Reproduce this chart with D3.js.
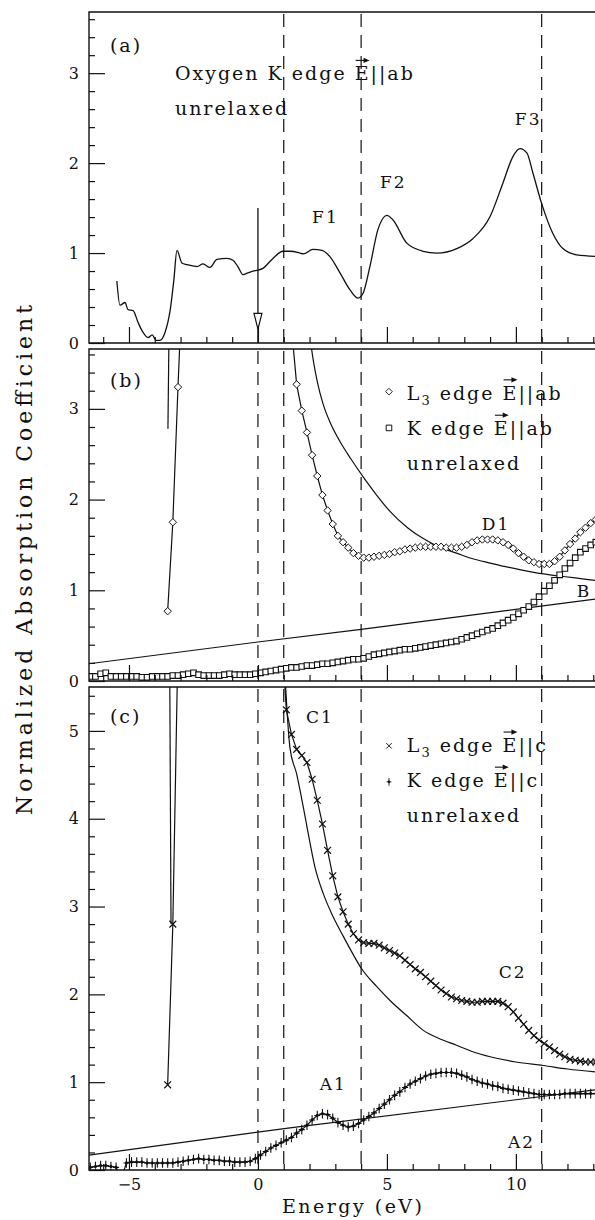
<!DOCTYPE html>
<html>
<head>
<meta charset="utf-8">
<script src="https://cdn.jsdelivr.net/npm/d3@7"></script>
<style>
	body { margin: 0; background: #fff; }
	svg { display: block; }
	text { font-family: "DejaVu Serif", serif; fill: #111; }
</style>
</head>
<body>
<svg id="chart" width="595" height="1220"></svg>
<script>
// Spectra are sampled every 0.2 eV
const step = 0.2;

// x axis (energy, eV)
const xTicksMajor = [-5, 0, 5, 10];
const xTicksMinor = [-6, -4, -3, -2, -1, 1, 2, 3, 4, 6, 7, 8, 9, 11, 12, 13];
const dashesA = [1, 4, 11];
const dashesBC = [0, 1, 4, 11];

// (a) Oxygen K edge, E||ab, unrelaxed
const oxyE = [-5.47, -5.35, -5.15, -5.04, -4.84, -4.65, -4.46, -4.26, -4.10, -3.95, -3.80, -3.60, -3.40, -3.26, -3.14,
	-2.95, -2.75, -2.36, -2.13, -1.86, -1.59, -1.20, -0.97, -0.78, -0.58, -0.39, -0.19, 0.0, 0.19, 0.58, 0.97,
	1.24, 1.63, 1.76, 2.13, 2.48, 2.79, 3.18, 3.57, 3.88, 4.07, 4.34, 4.65, 5.00, 5.23, 5.77, 6.40, 6.94, 7.71,
	8.33, 8.99, 9.50, 9.88, 10.16, 10.43, 10.66, 11.00, 11.43, 11.82, 12.36, 13.30];
const oxyMu = [0.69, 0.42, 0.45, 0.37, 0.36, 0.23, 0.12, 0.06, 0.09, 0.03, 0.03, 0.12, 0.37, 0.70, 1.03,
	0.89, 0.87, 0.85, 0.88, 0.84, 0.93, 0.94, 0.92, 0.85, 0.76, 0.78, 0.80, 0.81, 0.83, 0.94, 1.02,
	1.02, 1.00, 0.99, 1.04, 1.03, 0.96, 0.78, 0.59, 0.50, 0.55, 0.85, 1.26, 1.42, 1.37, 1.11, 1.02, 1.00, 1.05,
	1.16, 1.40, 1.78, 2.07, 2.16, 2.11, 1.89, 1.55, 1.22, 1.05, 0.98, 0.96];
const arrowE = 0;
const arrowFrom = 1.5, arrowBase = 0.33, arrowTip = 0.155;

// (b) L3 edge E||ab (diamonds)
const l3abLeftStart = -3.5;
const l3abLeft = [0.77, 1.75, 3.24, 4.6];
const l3abStart = 1.3;
const l3ab = [3.9, 3.27, 2.98, 2.74, 2.49, 2.26, 2.05, 1.88, 1.73, 1.60, 1.53, 1.47, 1.41, 1.38, 1.36, 1.36, 1.37,
	1.38, 1.39, 1.40, 1.42, 1.43, 1.45, 1.46, 1.47, 1.48, 1.48, 1.48, 1.48, 1.48, 1.47, 1.47, 1.47, 1.48, 1.50,
	1.53, 1.55, 1.56, 1.56, 1.56, 1.55, 1.53, 1.50, 1.46, 1.41, 1.37, 1.33, 1.31, 1.29, 1.29, 1.29, 1.32, 1.37,
	1.44, 1.51, 1.57, 1.64, 1.69, 1.74, 1.78];
// (b) K edge E||ab (squares)
const kabStart = -6.5;
const kab = [0.05, 0.05, 0.08, 0.09, 0.05, 0.05, 0.05, 0.05, 0.05, 0.05, 0.04, 0.04, 0.05, 0.05, 0.05, 0.05,
	0.06, 0.06, 0.07, 0.08, 0.09, 0.07, 0.06, 0.06, 0.06, 0.06, 0.07, 0.08, 0.07, 0.07, 0.07, 0.07, 0.08, 0.09,
	0.10, 0.11, 0.12, 0.13, 0.14, 0.15, 0.15, 0.16, 0.17, 0.17, 0.18, 0.19, 0.19, 0.20, 0.21, 0.22, 0.23, 0.24,
	0.24, 0.25, 0.27, 0.29, 0.30, 0.31, 0.32, 0.33, 0.34, 0.35, 0.35, 0.36, 0.37, 0.38, 0.39, 0.40, 0.41, 0.42,
	0.43, 0.44, 0.46, 0.48, 0.50, 0.52, 0.54, 0.56, 0.58, 0.61, 0.64, 0.67, 0.70, 0.74, 0.78, 0.82, 0.87, 0.93,
	0.99, 1.05, 1.11, 1.17, 1.24, 1.30, 1.36, 1.42, 1.46, 1.50, 1.53];
// (b) unrelaxed curves
const unrelL3abE = [2.0, 2.08, 2.3, 2.53, 2.8, 3.18, 3.6, 4.08, 4.6, 5.12, 5.8, 6.41, 7.0, 7.7, 8.3, 9.0, 9.6, 10.28, 11.06, 11.6, 12.22, 13.3];
const unrelL3ab = [3.85, 3.66, 3.3, 3.05, 2.85, 2.64, 2.45, 2.25, 2.05, 1.87, 1.69, 1.57, 1.48, 1.41, 1.35, 1.30, 1.26, 1.22, 1.18, 1.16, 1.14, 1.10];
const unrelL3abLeftE = [-3.49, -3.45];
const unrelL3abLeft = [2.78, 3.8];
const unrelKabE = [-6.55, 0, 4, 13.3];
const unrelKab = [0.19, 0.43, 0.57, 0.91];

// (c) L3 edge E||c (crosses)
const l3cLeftStart = -3.5;
const l3cLeft = [0.97, 2.8, 6.0];
const l3cStart = 0.9;
const l3c = [6.2, 5.24, 4.96, 4.79, 4.72, 4.64, 4.45, 4.21, 3.94, 3.64, 3.35, 3.11, 2.94, 2.80, 2.69, 2.62, 2.59,
	2.58, 2.58, 2.56, 2.53, 2.50, 2.47, 2.44, 2.39, 2.34, 2.29, 2.25, 2.20, 2.15, 2.10, 2.05, 2.01, 1.97, 1.95,
	1.93, 1.92, 1.91, 1.91, 1.92, 1.92, 1.92, 1.92, 1.90, 1.86, 1.80, 1.73, 1.66, 1.59, 1.53, 1.48, 1.44, 1.40,
	1.36, 1.32, 1.29, 1.26, 1.25, 1.24, 1.23, 1.23, 1.23];
// (c) K edge E||c (pluses)
const kcStart = -6.5;
const kc = [0.03, 0.04, 0.05, 0.05, 0.04, 0.03, -0.1, 0.08, 0.09, 0.09, 0.09, 0.08, 0.08, 0.08, 0.08, 0.08,
	0.08, 0.09, 0.10, 0.11, 0.12, 0.13, 0.12, 0.12, 0.11, 0.11, 0.10, 0.10, 0.09, 0.09, 0.09, 0.10, 0.13, 0.17,
	0.21, 0.25, 0.28, 0.31, 0.34, 0.37, 0.42, 0.46, 0.51, 0.57, 0.62, 0.64, 0.63, 0.59, 0.54, 0.51, 0.49, 0.50,
	0.53, 0.57, 0.61, 0.65, 0.70, 0.75, 0.80, 0.85, 0.89, 0.94, 0.98, 1.01, 1.04, 1.07, 1.09, 1.10, 1.11, 1.11,
	1.11, 1.10, 1.08, 1.06, 1.03, 1.01, 0.99, 0.98, 0.96, 0.95, 0.93, 0.92, 0.91, 0.90, 0.89, 0.88, 0.87, 0.86,
	0.86, 0.86, 0.86, 0.86, 0.87, 0.87, 0.87, 0.87, 0.87, 0.87, 0.87];
// (c) unrelaxed curves
const unrelL3cE = [1.0, 1.24, 1.5, 1.76, 1.95, 2.21, 2.53, 2.92, 3.31, 3.7, 4.0, 4.6, 5.12, 5.8, 6.41, 7.0, 7.7, 8.3, 9.0, 10.0, 11.06, 12.0, 13.3];
const unrelL3c = [5.9, 4.81, 4.51, 4.13, 3.83, 3.45, 3.15, 2.88, 2.66, 2.45, 2.30, 2.09, 1.93, 1.75, 1.59, 1.50, 1.42, 1.35, 1.29, 1.23, 1.19, 1.15, 1.11];
const unrelL3cLeftE = [-3.37, -3.42];
const unrelL3cLeft = [2.8, 5.7];
const unrelKcE = [-6.55, 1.24, 13.3];
const unrelKc = [0.17, 0.48, 0.92];

// y axis ticks
const yTicksAB = [0, 1, 2, 3];
const yTicksC = [0, 1, 2, 3, 4, 5];

const svg = d3.select("#chart");
svg.append("rect").attr("width", 595).attr("height", 1220).attr("fill", "#fff");

const ink = "#111";
const x = d3.scaleLinear().domain([-6.55, 13.3]).range([89, 601]);

const grid = (start, vals) => vals.map((v, i) => [start + i * step, v]);
const pairs = (xs, ys) => xs.map((e, i) => [e, ys[i]]);

// marker shapes
const diamondPath = "M0,-3.7L3.7,0L0,3.7L-3.7,0Z";
const squarePath = "M-2.8,-2.8H2.8V2.8H-2.8Z";
const crossPath = "M-3.4,-3.4L3.4,3.4M-3.4,3.4L3.4,-3.4";
const plusPath = "M0,-4.8V4.8M-3,0H3M0,-1.6L1.2,0L0,1.6L-1.2,0Z";

const panels = [
	{ id: "a", top: 12, bottom: 343, yMax: 3.68, yTicks: yTicksAB, dashes: dashesA, xLabels: false },
	{ id: "b", top: 349, bottom: 681, yMax: 3.66, yTicks: yTicksAB, dashes: dashesBC, xLabels: false },
	{ id: "c", top: 687, bottom: 1170, yMax: 5.5, yTicks: yTicksC, dashes: dashesBC, xLabels: true },
];

panels.forEach((p) => {
	p.y = d3.scaleLinear().domain([0, p.yMax]).range([p.bottom, p.top]);
	svg.append("clipPath").attr("id", `clip-${p.id}`)
		.append("rect")
		.attr("x", x.range()[0]).attr("y", p.top)
		.attr("width", x.range()[1] - x.range()[0]).attr("height", p.bottom - p.top);
	p.g = svg.append("g");
	p.plot = p.g.append("g").attr("clip-path", `url(#clip-${p.id})`);

	// dashed reference lines
	p.plot.selectAll("line.dash")
		.data(p.dashes)
		.join("line")
		.attr("class", "dash")
		.attr("x1", (d) => x(d)).attr("x2", (d) => x(d))
		.attr("y1", p.top + 2).attr("y2", p.bottom)
		.attr("stroke", ink)
		.attr("stroke-width", 1.2)
		.attr("stroke-dasharray", "13,8");
});

function drawLine(p, data, curve, width = 1.2) {
	const line = d3.line()
		.x((d) => x(d[0]))
		.y((d) => p.y(d[1]))
		.curve(curve || d3.curveLinear);
	p.plot.append("path")
		.datum(data)
		.attr("d", line)
		.attr("fill", "none")
		.attr("stroke", ink)
		.attr("stroke-width", width)
		.attr("stroke-linejoin", "round");
}

function drawMarkers(p, data, shape, fill, width) {
	p.plot.append("g")
		.selectAll("path")
		.data(data)
		.join("path")
		.attr("transform", (d) => `translate(${x(d[0])},${p.y(d[1])})`)
		.attr("d", shape)
		.attr("fill", fill)
		.attr("stroke", ink)
		.attr("stroke-width", width);
}

const [pa, pb, pc] = panels;

// Panel (a)
drawLine(pa, pairs(oxyE, oxyMu), d3.curveMonotoneX, 1.3);
pa.plot.append("line")
	.attr("x1", x(arrowE)).attr("x2", x(arrowE))
	.attr("y1", pa.y(arrowFrom)).attr("y2", pa.y(0))
	.attr("stroke", ink).attr("stroke-width", 1.3);
pa.plot.append("path")
	.attr("d", `M${x(arrowE) - 4},${pa.y(arrowBase)}H${x(arrowE) + 4}L${x(arrowE)},${pa.y(arrowTip)}Z`)
	.attr("fill", "#fff").attr("stroke", ink).attr("stroke-width", 1.2);

// Panel (b)
drawLine(pb, pairs(unrelKabE, unrelKab));
drawLine(pb, pairs(unrelL3abE, unrelL3ab), d3.curveMonotoneX);
drawLine(pb, pairs(unrelL3abLeftE, unrelL3abLeft));
drawLine(pb, grid(kabStart, kab));
drawMarkers(pb, grid(kabStart, kab), squarePath, "#fff", 1.1);
drawLine(pb, grid(l3abLeftStart, l3abLeft));
drawLine(pb, grid(l3abStart, l3ab));
drawMarkers(pb, grid(l3abLeftStart, l3abLeft).concat(grid(l3abStart, l3ab)), diamondPath, "#fff", 1);

// Panel (c)
drawLine(pc, pairs(unrelKcE, unrelKc));
drawLine(pc, pairs(unrelL3cE, unrelL3c), d3.curveMonotoneX);
drawLine(pc, pairs(unrelL3cLeftE, unrelL3cLeft));
drawLine(pc, grid(kcStart, kc));
drawMarkers(pc, grid(kcStart, kc), plusPath, ink, 1.1);
drawLine(pc, grid(l3cLeftStart, l3cLeft));
drawLine(pc, grid(l3cStart, l3c));
drawMarkers(pc, grid(l3cLeftStart, l3cLeft).concat(grid(l3cStart, l3c)), crossPath, "none", 1.2);

// Frames and axes
panels.forEach((p) => {
	p.g.append("path")
		.attr("d", `M${x.range()[1]},${p.top}H${x.range()[0]}V${p.bottom}H${x.range()[1]}`)
		.attr("fill", "none").attr("stroke", ink).attr("stroke-width", 1.4);

	const minorY = d3.range(0.2, p.yMax, 0.2).filter((v) => Math.abs(v - Math.round(v)) > 0.01);
	const yMajor = p.g.append("g")
		.attr("transform", `translate(${x.range()[0]},0)`)
		.call(d3.axisLeft(p.y).tickValues(p.yTicks).tickSize(-16).tickSizeOuter(0).tickPadding(10).tickFormat(d3.format("d")));
	const yMinor = p.g.append("g")
		.attr("transform", `translate(${x.range()[0]},0)`)
		.call(d3.axisLeft(p.y).tickValues(minorY).tickSize(-6).tickSizeOuter(0).tickFormat(""));
	const xMajor = p.g.append("g")
		.attr("transform", `translate(0,${p.bottom})`)
		.call(d3.axisBottom(x).tickValues(xTicksMajor).tickSize(-16).tickSizeOuter(0).tickPadding(9)
			.tickFormat(p.xLabels ? d3.format("d") : ""));
	const xMinor = p.g.append("g")
		.attr("transform", `translate(0,${p.bottom})`)
		.call(d3.axisBottom(x).tickValues(xTicksMinor).tickSize(-6).tickSizeOuter(0).tickFormat(""));

	[yMajor, yMinor, xMajor, xMinor].forEach((a) => {
		a.select(".domain").remove();
		a.selectAll("line").attr("stroke", ink).attr("stroke-width", 1.2);
		a.selectAll("text").attr("fill", ink).style("font-family", "DejaVu Serif").style("font-size", "16px");
	});
});

// Text labels. parts: [text, kind] where kind is "sub" or "vec" (arrow over E)
function addLabel(p, e, v, parts, size = 19, spacing = 2) {
	const t = p.g.append("text")
		.attr("x", x(e)).attr("y", p.y(v))
		.style("font-size", `${size}px`)
		.style("letter-spacing", `${spacing}px`);
	const vecs = [];
	let inSub = false;
	parts.forEach(([str, kind]) => {
		const ts = t.append("tspan").text(str);
		if (kind === "sub") {
			ts.attr("dy", 5).style("font-size", `${Math.round(size * 0.7)}px`);
		} else {
			if (inSub) ts.attr("dy", -5);
			if (kind === "vec") vecs.push(ts);
		}
		inSub = kind === "sub";
	});
	vecs.forEach((ts) => {
		const r = ts.node().getExtentOfChar(0);
		const ay = p.y(v) - size * 1.05;
		const x0 = r.x + 1, x1 = r.x + r.width - spacing;
		p.g.append("path")
			.attr("d", `M${x0},${ay}H${x1 - 3}`)
			.attr("stroke", ink).attr("stroke-width", 1.1);
		p.g.append("path")
			.attr("d", `M${x1 + 1},${ay}L${x1 - 5},${ay - 2.6}L${x1 - 5},${ay + 2.6}Z`)
			.attr("fill", ink);
	});
	return t;
}

addLabel(pa, -5.74, 3.23, [["(a)"]]);
addLabel(pa, -3.22, 2.92, [["Oxygen K edge "], ["E", "vec"], ["||ab"]]);
addLabel(pa, -3.22, 2.53, [["unrelaxed"]]);
addLabel(pa, 2.1, 1.33, [["F1"]], 17);
addLabel(pa, 4.73, 1.72, [["F2"]], 17);
addLabel(pa, 9.96, 2.42, [["F3"]], 17);

addLabel(pb, -5.74, 3.24, [["(b)"]]);
addLabel(pb, 5.77, 3.10, [["L"], ["3", "sub"], [" edge "], ["E", "vec"], ["||ab"]]);
addLabel(pb, 5.77, 2.71, [["K edge "], ["E", "vec"], ["||ab"]]);
addLabel(pb, 5.77, 2.33, [["unrelaxed"]]);
addLabel(pb, 8.68, 1.66, [["D1"]], 17);
addLabel(pb, 12.36, 0.93, [["B"]], 17);
pb.g.append("path").attr("transform", `translate(${x(5.08)},${pb.y(3.19)}) scale(0.9)`)
	.attr("d", diamondPath).attr("fill", "#fff").attr("stroke", ink).attr("stroke-width", 1);
pb.g.append("path").attr("transform", `translate(${x(5.08)},${pb.y(2.79)})`)
	.attr("d", squarePath).attr("fill", "#fff").attr("stroke", ink).attr("stroke-width", 1);

addLabel(pc, -5.74, 5.09, [["(c)"]]);
addLabel(pc, 1.86, 5.09, [["C1"]], 17);
addLabel(pc, 5.77, 4.76, [["L"], ["3", "sub"], [" edge "], ["E", "vec"], ["||c"]]);
addLabel(pc, 5.77, 4.36, [["K edge "], ["E", "vec"], ["||c"]]);
addLabel(pc, 5.77, 3.96, [["unrelaxed"]]);
addLabel(pc, 9.34, 2.19, [["C2"]], 17);
addLabel(pc, 2.4, 0.91, [["A1"]], 17);
addLabel(pc, 9.69, 0.25, [["A2"]], 17);
pc.g.append("path").attr("transform", `translate(${x(5.08)},${pc.y(4.83)}) scale(0.8)`)
	.attr("d", crossPath).attr("fill", "none").attr("stroke", ink).attr("stroke-width", 1.2);
pc.g.append("path").attr("transform", `translate(${x(5.08)},${pc.y(4.42)}) scale(0.8)`)
	.attr("d", plusPath).attr("fill", ink).attr("stroke", ink).attr("stroke-width", 1.1);

// Axis titles
svg.append("text")
	.attr("transform", "translate(32,560) rotate(-90)")
	.attr("text-anchor", "middle")
	.attr("textLength", 510)
	.attr("lengthAdjust", "spacing")
	.style("font-size", "22px")
	.text("Normalized Absorption Coefficient");
svg.append("text")
	.attr("x", 282).attr("y", 1213)
	.attr("textLength", 140)
	.attr("lengthAdjust", "spacing")
	.style("font-size", "19px")
	.text("Energy (eV)");
</script>
</body>
</html>
